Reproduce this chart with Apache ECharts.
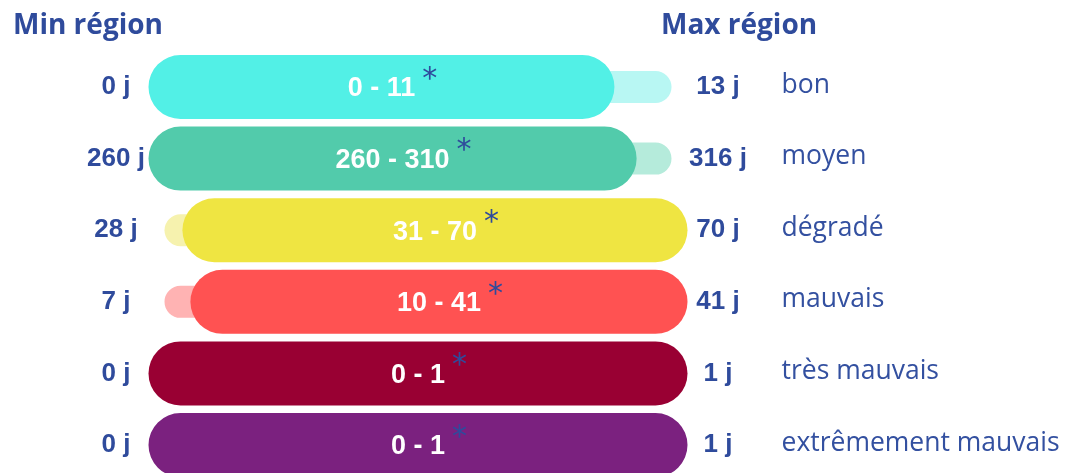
<!DOCTYPE html>
<html>
<head>
<meta charset="utf-8">
<script src="https://cdn.jsdelivr.net/npm/echarts@6/dist/echarts.min.js"></script>
<style>
html,body{margin:0;padding:0;background:#fff;}
#chart{width:1070px;height:473px;}
</style>
</head>
<body>
<div id="chart"></div>
<script>
// ---- data ----
const categories = ['bon', 'moyen', 'dégradé', 'mauvais', 'très mauvais', 'extrêmement mauvais'];
const minRegion = [0, 260, 28, 7, 0, 0];
const maxRegion = [13, 316, 70, 41, 1, 1];
const rangeLow = [0, 260, 31, 10, 0, 0];
const rangeHigh = [11, 310, 70, 41, 1, 1];
const headerLeft = 'Min région';
const headerRight = 'Max région';

// ---- styles ----
const darkColors = ['#52f0e6', '#52cbab', '#efe542', '#ff5252', '#990033', '#7b217f'];
const lightColors = ['#b8f7f3', '#b5ebdb', '#f6f2ae', '#ffb3b3', '#d699ad', '#caa6cc'];
const blue = '#2f4b9c';
const catBlue = '#3350a0';
const centerFont = 'bold 27px "Liberation Sans", Arial, sans-serif';
const valueFont = 'bold 26px "Liberation Sans", Arial, sans-serif';
const catFont = 'normal 26.5px "Open Sans", "Noto Sans", sans-serif';
const starFont = 'normal 30px "DejaVu Sans", sans-serif';
const headerFont = 'bold 28px "Open Sans", sans-serif';

const measureCtx = document.createElement('canvas').getContext('2d');
function textWidth(t, font) { measureCtx.font = font; return measureCtx.measureText(t).width; }

function renderItem(params, api) {
  const i = params.dataIndex;
  const lo = minRegion[i], hi = maxRegion[i];
  const norm = v => (v - lo) / (hi - lo);
  const band = Math.abs(api.size([0, 1])[1]);
  const y = api.coord([0, i])[1];
  const hD = band * 0.894, hL = band * 0.447;
  const lx0 = api.coord([norm(minRegion[i]), i])[0];
  const lx1 = api.coord([norm(maxRegion[i]), i])[0];
  const dx0 = api.coord([norm(rangeLow[i]), i])[0];
  const dx1 = api.coord([norm(rangeHigh[i]), i])[0];
  const zeroX = api.coord([0, i])[0];
  const oneX = api.coord([1, i])[0];
  const label = rangeLow[i] + ' - ' + rangeHigh[i];
  const cx = (dx0 - hD / 2 + dx1 + hD / 2) / 2;
  const w = textWidth(label, centerFont);
  return {
    type: 'group',
    children: [
      { type: 'rect', shape: { x: lx0 - hL / 2, y: y - hL / 2, width: lx1 - lx0 + hL, height: hL, r: hL / 2 },
        style: { fill: lightColors[i] } },
      { type: 'rect', shape: { x: dx0 - hD / 2, y: y - hD / 2, width: dx1 - dx0 + hD, height: hD, r: hD / 2 },
        style: { fill: darkColors[i] } },
      { type: 'text', x: cx, y: y + 2, style: { text: label, font: centerFont, fill: '#fff', align: 'center', verticalAlign: 'middle' } },
      { type: 'text', x: cx + w / 2 + 7, y: y - 7, style: { text: '*', font: starFont, fill: blue, align: 'left', verticalAlign: 'middle' } },
      { type: 'text', x: zeroX - 64.5, y: y, style: { text: minRegion[i] + ' j', font: valueFont, fill: blue, align: 'center', verticalAlign: 'middle' } },
      { type: 'text', x: oneX + 62.5, y: y, style: { text: maxRegion[i] + ' j', font: valueFont, fill: blue, align: 'center', verticalAlign: 'middle' } },
      { type: 'text', x: oneX + 126, y: y - 2, style: { text: categories[i], font: catFont, fill: catBlue, align: 'left', verticalAlign: 'middle' } }
    ]
  };
}

const chart = echarts.init(document.getElementById('chart'), null, { renderer: 'canvas' });
chart.setOption({
  animation: false,
  grid: { left: 180.5, width: 475, top: 51.2, height: 415.3, containLabel: false },
  xAxis: { type: 'value', min: 0, max: 1, show: false },
  yAxis: { type: 'value', min: -0.5, max: 5.3, inverse: true, show: false },
  graphic: [
    { type: 'text', x: 13, y: 26, style: { text: headerLeft, font: headerFont, fill: blue, verticalAlign: 'middle' } },
    { type: 'text', x: 661, y: 26, style: { text: headerRight, font: headerFont, fill: blue, verticalAlign: 'middle' } }
  ],
  series: [{
    type: 'custom',
    renderItem: renderItem,
    clip: false,
    data: categories.map((c, i) => [rangeLow[i], i])
  }]
});
</script>
</body>
</html>
